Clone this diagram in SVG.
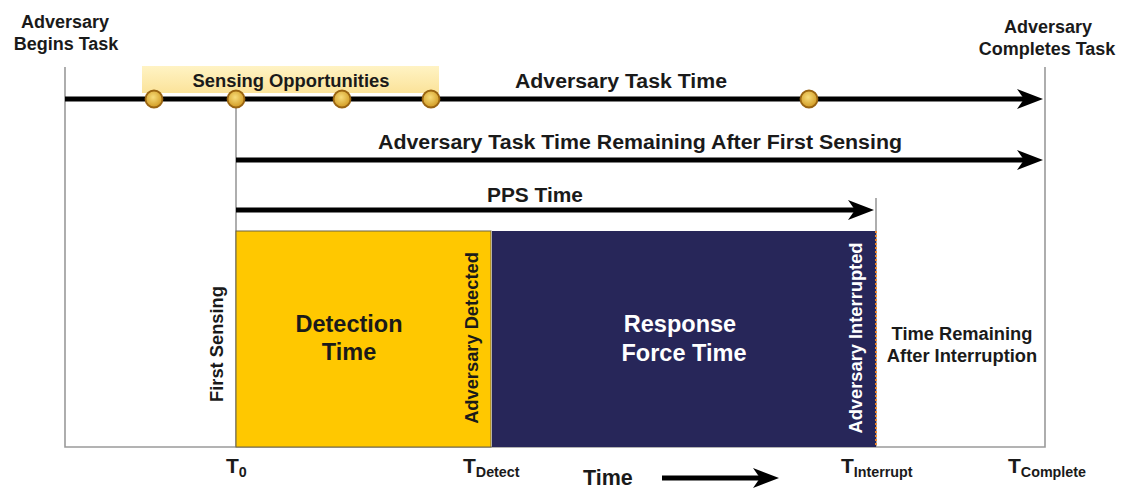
<svg xmlns="http://www.w3.org/2000/svg" width="1123" height="488" viewBox="0 0 1123 488">
<style>
text{font-family:"Liberation Sans",Arial,sans-serif;font-weight:bold;fill:#1a1a1a}
.frame{stroke:#9a9a9a;stroke-width:1.6;fill:none}
.arr{stroke:#000;stroke-width:5;fill:none}
.head{fill:#000}
.dot{fill:url(#gold);stroke:#9a6512;stroke-width:1.8}
.corner{font-size:18px;text-anchor:middle}
.lbl{font-size:20px;text-anchor:middle}
.box{font-size:23.5px;text-anchor:middle}
.rot{font-size:18.3px;text-anchor:middle}
.t{font-size:21px}
.sub{font-size:14.3px}
</style>
<defs>
<radialGradient id="gold" cx="0.45" cy="0.4" r="0.6">
<stop offset="0" stop-color="#f7dc7a"/>
<stop offset="1" stop-color="#d19a22"/>
</radialGradient>
<linearGradient id="hl" x1="0" y1="0" x2="0" y2="1">
<stop offset="0" stop-color="#fff3c4"/>
<stop offset="1" stop-color="#fbe39a"/>
</linearGradient>
</defs>
<g id="frame">
<path class="frame" d="M65,67 V447 H1045 V67"/>
<line class="frame" x1="236" y1="99" x2="236" y2="447"/>
<line class="frame" x1="876" y1="198" x2="876" y2="447"/>
</g>
<g id="labels-top">
<text class="corner" x="65" y="28">Adversary</text>
<text class="corner" x="66" y="50">Begins Task</text>
<text class="corner" x="1048" y="33">Adversary</text>
<text class="corner" x="1047" y="55">Completes Task</text>
</g>
<g id="sensing-opportunities">
<rect x="142" y="66" width="297" height="27" fill="url(#hl)"/>
<text x="291" y="87" style="font-size:18px;text-anchor:middle" textLength="197" lengthAdjust="spacingAndGlyphs">Sensing Opportunities</text>
</g>
<g id="connectors">
<line class="arr" x1="65" y1="99" x2="1030" y2="99"/>
<polygon class="head" points="1043,99 1017,89 1024,99 1017,109"/>
<line class="arr" x1="236" y1="160" x2="1030" y2="160"/>
<polygon class="head" points="1043,160 1017,150 1024,160 1017,170"/>
<line class="arr" x1="236" y1="210" x2="860" y2="210"/>
<polygon class="head" points="874,210 848,200 855,210 848,220"/>
<line class="arr" x1="662" y1="478" x2="765" y2="478"/>
<polygon class="head" points="779,478 753,468 760,478 753,488"/>
</g>
<g id="sensing-dots">
<circle class="dot" cx="154" cy="99" r="8.5"/>
<circle class="dot" cx="236" cy="99" r="8.5"/>
<circle class="dot" cx="342" cy="99" r="8.5"/>
<circle class="dot" cx="431" cy="99" r="8.5"/>
<circle class="dot" cx="809" cy="99" r="8.5"/>
</g>
<g id="arrow-labels">
<text class="lbl" x="621" y="88" textLength="212" lengthAdjust="spacingAndGlyphs">Adversary Task Time</text>
<text class="lbl" x="640" y="149" textLength="524" lengthAdjust="spacingAndGlyphs">Adversary Task Time Remaining After First Sensing</text>
<text class="lbl" x="535" y="202" textLength="96" lengthAdjust="spacingAndGlyphs">PPS Time</text>
</g>
<g id="first-sensing">
<text class="rot" transform="translate(223,344) rotate(-90)">First Sensing</text>
</g>
<g id="detection-time">
<rect x="236" y="231" width="255" height="216" fill="#ffc800" stroke="#6e6440" stroke-width="1"/>
<text class="box" x="349" y="332">Detection</text>
<text class="box" x="349" y="360">Time</text>
<text class="rot" transform="translate(478,338) rotate(-90)">Adversary Detected</text>
</g>
<g id="response-force-time">
<rect x="492" y="231" width="384" height="216" fill="#272659"/>
<text class="box" x="680" y="332" style="fill:#fff">Response</text>
<text class="box" x="684" y="361" style="fill:#fff">Force Time</text>
<text class="rot" transform="translate(862,338) rotate(-90)" style="fill:#fff">Adversary Interrupted</text>
<line x1="876" y1="231" x2="876" y2="447" stroke="#f08a30" stroke-width="2" stroke-dasharray="2,2"/>
</g>
<g id="time-remaining">
<text class="rot" x="962" y="340">Time Remaining</text>
<text class="rot" x="962" y="362">After Interruption</text>
</g>
<g id="axis-labels">
<text class="t" x="226" y="473">T<tspan class="sub" dy="4">0</tspan></text>
<text class="t" x="463" y="473">T<tspan class="sub" dy="4">Detect</tspan></text>
<text class="t" x="841" y="473">T<tspan class="sub" dy="4">Interrupt</tspan></text>
<text class="t" x="1008" y="473">T<tspan class="sub" dy="4">Complete</tspan></text>
<text x="583" y="485" style="font-size:21.5px">Time</text>
</g>
</svg>
